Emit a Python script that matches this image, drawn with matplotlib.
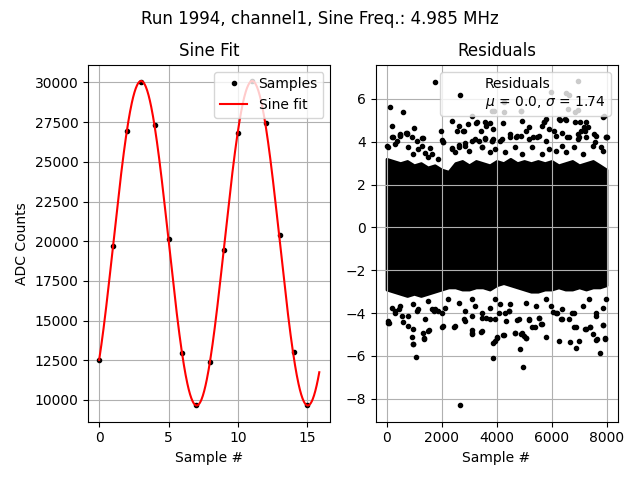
import numpy as np
from matplotlib import pyplot as plt

# first 16 ADC samples
samples = np.array([12540, 19680, 26930, 30035, 27305, 20165, 12940, 9685,
                    12415, 19470, 26800, 30075, 27430, 20375, 13045, 9685])
sine_freq = 4.985   # MHz
run = 1994
channel = "channel1"

# fitted sine parameters (full-record fit)
fit_offset = 19870
fit_amp = 10220
fit_period = 8.0     # samples
fit_peak = 3.02      # sample index of first maximum

# residual statistics shown in the legend
res_mu = 0.0
res_sigma = 1.74

# outer envelope of the dense residual cloud (x in samples)
env_x = np.array([0, 250, 500, 750, 1000, 1250, 1500, 1750, 2000, 2250, 2500,
                  2750, 3000, 3250, 3500, 3750, 4000, 4250, 4500, 4750, 5000,
                  5250, 5500, 5750, 6000, 6250, 6500, 6750, 7000, 7250, 7500,
                  7750, 7990])
env_hi = np.array([3.2, 3.1, 3.0, 3.1, 2.9, 3.0, 2.8, 2.9, 2.7, 2.6, 3.0,
                   3.1, 2.9, 3.1, 3.0, 2.9, 3.1, 3.0, 3.2, 3.0, 3.1,
                   3.0, 3.1, 3.0, 3.1, 2.9, 3.0, 3.1, 2.9, 3.0, 3.1,
                   2.9, 2.7])
env_lo = np.array([-2.9, -3.0, -3.1, -3.2, -3.1, -3.2, -3.1, -3.0, -2.9, -2.8, -2.8,
                   -2.9, -2.9, -2.8, -2.8, -2.9, -2.7, -2.6, -2.7, -2.8, -2.9,
                   -3.0, -3.0, -2.9, -2.9, -2.8, -2.9, -2.9, -2.8, -2.9, -2.8,
                   -2.8, -2.7])

# scattered residuals outside the dense band
out_x = [110, 607, 1776, 183, 6963, 6634, 5965, 6941, 6610, 4285, 4895, 3920,
         4260, 3105, 1972, 2397, 2640, 2762, 2945, 3286, 3614, 3857, 4248, 4930,
         5076, 5709, 6293, 6537, 5892, 7016, 7321, 7877, 7999, 997, 486, 693,
         1302, 2032, 3857, 4711, 5320, 6963, 7572, 7224,
         243, 487, 731, 914, 1096, 1279, 365, 0, 1400, 1583, 2374, 2616, 2860,
         3104, 3349, 3592, 3836, 3470, 2070, 2556, 2800, 3237, 3432, 3578, 3760,
         3835, 4870, 6539, 6842, 5721, 5782, 6257, 6500, 6866, 7231, 7913, 7974,
         4504, 4748, 5173, 5660, 6087, 6392, 7061, 7183, 7000, 7548, 4138, 5538,
         6635,
         183, 487, 731, 304, 61, 1339, 2070, 2616, 2860, 3226, 3592, 3836, 2373,
         2982, 3470, 3957, 792, 1157, 1644, 1887, 975, 1522, 2496, 3775,
         4200, 4504, 4870, 5174, 5478, 5782, 6148, 6574, 6940, 7244, 7609, 7974,
         5295, 5904, 6392, 6818, 7487, 7791, 4686, 4321, 4930, 5661, 6148, 6513,
         7122, 7852,
         2678, 1083, 3883, 4955, 4833, 7755, 6890, 6281, 6987, 7633, 7938, 961,
         937, 1363, 1546, 3883, 4005, 4224, 3111, 3111, 3440, 4992, 5076, 4894,
         4674, 5807, 5381, 5625, 2458, 2032, 85, 608, 6829, 7230, 7377, 7864,
         7620, 6038, 6342, 4346, 3614, 2823, 1729, 1096, 450, 207,
         61, 973, 1376, 1522, 1339, 949, 2070, 2496, 3105, 3470, 3957, 790, 547,
         1400, 1765, 2009, 2860, 3104, 3470, 3775, 304, 6659, 7609, 7950, 7487,
         7244, 7390, 7852, 6879, 5052, 4930, 4686, 4260, 4016, 5302, 5661, 4747,
         5173, 5538, 6148, 6392, 6635, 6818, 4320, 4442, 3956,
         61, 792, 487, 304, 1157, 975, 1644, 1887, 1522, 2252, 2616, 2860, 3226,
         3470, 3775, 3957, 2130, 3104,
         4138, 4443, 4504, 5052, 4808, 5174, 5539, 5417, 5782, 6209, 6392, 6757,
         7122, 7366, 7609, 7852, 7974, 4077, 5965]
out_y = [5.61, 5.37, 6.78, 4.72, 6.83, 6.19, 6.31, 5.50, 5.53, 5.84, 5.45, 5.45,
         5.37, 5.19, 4.52, 4.98, 4.75, 4.52, 4.83, 4.91, 4.75, 4.60, 4.89, 4.98,
         4.52, 4.94, 5.02, 5.02, 4.60, 4.91, 4.67, 5.14, 4.21, 4.63, 4.31, 4.39,
         4.16, 4.08, 4.13, 4.21, 4.21, 4.36, 4.00, 4.52,
         4.21, 4.36, 4.41, 4.21, 4.01, 3.82, 4.01, 3.78, 3.45, 3.69, 3.69, 3.85, 3.93,
         4.01, 4.05, 4.17, 4.05, 3.74, 3.97, 4.52, 4.52, 4.88, 4.52, 4.91, 4.88,
         5.41, 5.42, 6.28, 5.39, 4.91, 5.07, 5.04, 5.04, 4.91, 4.94, 5.22, 4.21,
         4.36, 4.28, 4.68, 4.75, 4.52, 4.41, 4.52, 4.68, 4.21, 4.36, 4.05, 4.28,
         4.21,
         4.21, 4.28, 4.36, 3.90, 3.74, 4.18, 3.97, 3.74, 3.82, 4.13, 4.13, 4.05, 3.66,
         3.58, 3.74, 3.66, 3.74, 3.66, 3.43, 3.19, 3.43, 3.27, 3.51, 3.51,
         4.13, 4.21, 4.28, 4.13, 4.21, 4.05, 4.28, 4.21, 4.13, 4.21, 4.28, 4.21,
         3.74, 3.66, 3.82, 3.74, 3.82, 3.74, 3.74, 3.51, 3.43, 3.43, 3.58, 3.51,
         3.43, 3.58,
         -8.31, -6.03, -6.11, -6.50, -5.69, -5.88, -5.64, -5.32, -5.30, -5.22, -5.18, -5.42,
         -5.10, -5.18, -4.80, -5.38, -5.15, -5.04, -4.99, -4.80, -4.86, -5.07, -5.15, -4.99,
         -4.93, -5.10, -4.63, -4.52, -4.63, -4.63, -4.44, -4.41, -4.63, -4.72, -4.63, -4.57,
         -4.13, -3.97, -4.28, -4.36, -4.24, -4.28, -3.90, -3.90, -3.82, -3.74,
         -4.44, -5.46, -5.19, -4.83, -4.91, -4.75, -4.60, -4.60, -4.91, -4.83, -5.30, -4.60, -4.13,
         -4.29, -3.82, -3.98, -4.37, -4.13, -4.21, -4.29, -3.90, -5.33, -5.25, -5.19, -4.99,
         -4.72, -4.63, -4.57, -4.63, -5.15, -4.91, -4.91, -5.04, -5.10, -4.63, -4.52, -4.32,
         -4.32, -4.21, -3.98, -4.29, -4.26, -3.98, -3.98, -3.90, -4.29,
         -4.36, -4.13, -3.66, -3.98, -3.82, -3.59, -3.82, -3.90, -3.43, -3.35, -3.51, -3.90, -3.66,
         -3.98, -3.74, -3.35, -3.74, -3.35,
         -3.59, -3.90, -3.59, -3.51, -4.29, -4.29, -4.21, -3.66, -3.35, -3.98, -3.82, -3.98,
         -3.66, -3.35, -3.98, -3.74, -3.35, -3.98, -3.66]

n = np.arange(len(samples))
t = np.linspace(0, 15.85, 500)
fit = fit_offset + fit_amp*np.cos(2*np.pi*(t - fit_peak)/fit_period)

fig, (ax1, ax2) = plt.subplots(1, 2, figsize=(6.4, 4.8))
fig.suptitle(f"Run {run}, {channel}, Sine Freq.: {sine_freq} MHz")

ax1.plot(n, samples, "k.", label="Samples")
ax1.plot(t, fit, "r-", label="Sine fit")
ax1.set_title("Sine Fit")
ax1.set_xlabel("Sample #")
ax1.set_ylabel("ADC Counts")
ax1.grid()
ax1.legend(loc="upper right")

ax2.fill_between(env_x, env_lo, env_hi, color="k", lw=2)
ax2.plot(out_x, out_y, "k.",
         label=f"Residuals\n$\\mu$ = {res_mu:.1f}, $\\sigma$ = {res_sigma:.2f}")
ax2.set_title("Residuals")
ax2.set_xlabel("Sample #")
ax2.grid()
ax2.legend(loc="upper right")

plt.tight_layout()
fig.subplots_adjust(top=0.865)
plt.savefig("out.png", dpi=100)
